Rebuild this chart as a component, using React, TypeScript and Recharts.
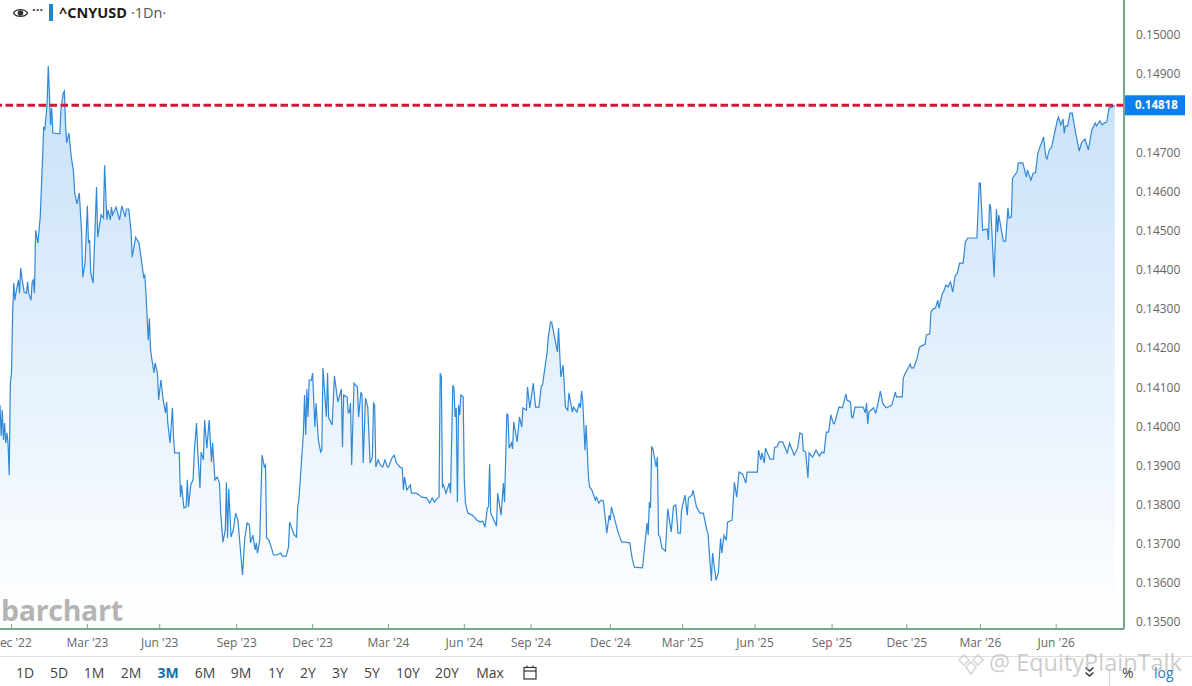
import { Area, AreaChart, ReferenceLine, XAxis, YAxis } from 'recharts';

// session number counted from the left edge of the chart
const sessions = [
  0,1,2,3,4,5,6,7,8,9,10,11,12,13,14,16,
  17,18,19,21,23,24,25,27,28,29,30,31,33,35,37,38,
  39,41,42,43,44,45,46,52,53,55,56,57,58,60,62,64,
  65,67,69,71,72,74,76,77,78,79,81,84,85,88,90,91,
  93,94,96,97,98,101,104,106,109,110,112,113,114,115,118,121,
  123,125,126,127,129,130,131,132,134,135,137,138,140,142,144,145,
  146,148,150,151,152,156,157,158,160,162,163,164,166,168,169,171,
  172,174,175,177,178,180,182,184,185,187,189,191,192,194,196,197,
  198,199,201,203,205,207,209,211,213,215,217,218,220,222,223,224,
  225,226,228,230,231,232,234,236,238,241,244,246,249,251,252,256,
  258,259,260,262,264,265,266,267,268,269,271,272,274,275,277,279,
  280,281,284,285,286,289,291,294,297,298,299,302,303,304,305,306,
  308,311,312,314,315,316,318,320,322,324,325,326,327,329,331,333,
  335,337,338,341,343,345,348,350,351,352,354,357,358,362,365,367,
  371,374,376,378,380,382,383,384,385,386,388,391,392,394,395,396,
  397,398,399,400,401,403,404,405,407,411,415,418,420,422,424,425,
  426,427,429,432,433,436,438,439,441,442,443,445,446,447,450,452,
  454,455,458,459,461,464,466,469,471,472,476,477,479,480,483,485,
  486,488,490,492,494,495,498,499,502,504,505,506,507,509,510,512,
  513,515,518,519,521,523,525,528,530,531,532,535,538,541,544,548,
  550,552,559,560,563,564,565,566,567,568,571,572,573,574,576,579,
  581,584,586,588,590,592,593,596,598,599,602,603,606,609,612,615,
  616,619,620,623,625,627,628,630,632,633,637,639,641,643,646,649,
  650,659,660,662,663,665,666,670,673,674,676,678,681,685,687,691,
  694,696,698,699,701,703,704,707,710,713,715,717,719,721,723,725,
  726,730,733,736,737,740,741,742,744,751,753,754,755,756,760,762,
  764,766,768,771,773,776,779,780,785,786,787,792,793,795,798,800,
  805,806,809,810,812,814,816,817,820,821,823,825,827,829,831,833,
  835,838,840,842,850,852,853,855,859,860,861,862,865,867,868,869,
  873,875,877,878,880,881,885,886,890,893,894,897,899,901,903,908,
  910,911,913,915,920,921,923,925,926,927,929,931,933,935,939,941,
  944,947,950,953,954,957,959,961,963,965,968,970,
];

// closes in units of 0.00001 USD
const closes = [
  14052,13973,14039,13963,14006,13955,13981,13955,13873,14108,14134,14287,14364,14320,14341,14372,
  14338,14402,14379,14341,14338,14367,14338,14320,14367,14372,14338,14499,14466,14533,14678,14763,
  14755,14824,14918,14849,14768,14811,14747,14745,14806,14849,14854,14773,14722,14747,14686,14648,
  14594,14566,14594,14492,14379,14415,14561,14466,14474,14389,14364,14609,14481,14538,14530,14665,
  14525,14550,14525,14558,14538,14558,14525,14561,14533,14553,14553,14525,14499,14430,14481,14466,
  14423,14379,14384,14338,14218,14274,14193,14172,14134,14160,14134,14065,14116,14065,14032,14060,
  14006,13955,14045,13971,13930,13930,13817,13848,13789,13792,13861,13792,13848,13861,13930,14006,
  13937,13840,13932,13912,14014,13942,14014,13907,13955,13861,13868,13853,13776,13702,13733,13855,
  13712,13838,13715,13733,13776,13758,13689,13618,13712,13751,13746,13700,13720,13682,13700,13674,
  13689,13707,13924,13894,13899,13712,13707,13689,13669,13669,13674,13666,13666,13689,13753,13720,
  13715,13792,13809,13894,13981,14078,13976,14093,14022,14116,14116,14134,13996,14057,13963,13932,
  13937,14147,14022,14134,14019,14001,14126,14060,14093,13945,14078,14073,14032,14034,14057,13899,
  14108,14098,14022,14085,14078,13904,14070,14047,13904,13919,14057,14052,13894,13912,13899,13894,
  13912,13894,13894,13917,13924,13904,13894,13891,13835,13868,13835,13848,13827,13827,13822,13817,
  13815,13802,13815,13804,13812,13817,14134,14124,13843,13848,13827,13853,13827,14103,14096,14022,
  14045,13804,14052,14027,14078,14073,13861,13802,13776,13771,13758,13753,13756,13740,13789,13792,
  13901,13776,13763,13743,13827,13771,13853,13804,14029,14027,13942,13955,13940,14009,13958,14022,
  13996,14045,14039,14098,14045,14108,14047,14047,14101,14103,14185,14223,14264,14264,14218,14188,
  14249,14124,14154,14047,14039,14083,14034,14047,14034,14057,14045,14088,14065,13937,14001,13868,
  13843,13835,13809,13817,13802,13809,13807,13725,13771,13758,13792,13758,13725,13702,13702,13700,
  13661,13638,13636,13664,13751,13720,13804,13789,13945,13942,13894,13919,13720,13717,13687,13679,
  13787,13728,13794,13797,13725,13725,13784,13822,13771,13815,13822,13835,13792,13776,13776,13733,
  13725,13603,13674,13605,13623,13712,13674,13720,13707,13753,13758,13855,13817,13881,13876,13853,
  13881,13881,13937,13912,13930,13904,13942,13914,13914,13945,13945,13958,13958,13930,13955,13924,
  13942,13981,13978,13935,13932,13866,13930,13919,13937,13922,13932,13930,13983,13983,14027,14006,
  14004,14047,14045,14080,14065,14060,14022,14019,14047,14047,14032,14057,14004,14034,14045,14032,
  14057,14088,14057,14045,14047,14052,14085,14073,14073,14121,14129,14157,14147,14147,14172,14200,
  14208,14231,14234,14290,14298,14300,14320,14300,14338,14341,14359,14354,14367,14341,14382,14389,
  14415,14415,14469,14479,14479,14619,14619,14499,14502,14474,14566,14558,14379,14553,14494,14538,
  14471,14471,14556,14530,14533,14632,14648,14671,14671,14635,14653,14627,14645,14645,14696,14737,
  14686,14681,14704,14711,14780,14788,14768,14783,14747,14765,14765,14798,14798,14763,14701,14722,
  14732,14704,14755,14773,14765,14778,14768,14773,14775,14811,14814,14818,
];

const monthTicks = [10, 76, 139, 206, 272, 338, 404, 462, 531, 594, 657, 724, 789, 853, 919];
const monthLabels = [
  "Dec '22", "Mar '23", "Jun '23", "Sep '23", "Dec '23", "Mar '24", "Jun '24", "Sep '24",
  "Dec '24", "Mar '25", "Jun '25", "Sep '25", "Dec '25", "Mar '26", "Jun '26",
];
const priceTicks = [
  0.135, 0.136, 0.137, 0.138, 0.139, 0.14, 0.141, 0.142, 0.143, 0.144, 0.145, 0.146, 0.147, 0.149, 0.15,
];
const lastPrice = 0.14818;
const periods = ['1D', '5D', '1M', '2M', '3M', '6M', '9M', '1Y', '2Y', '3Y', '5Y', '10Y', '20Y', 'Max'];
const periodCenters = [25, 59, 94, 131, 168, 205, 241, 276, 308, 340, 372, 408, 447, 490];

const data = sessions.map((session, i) => ({ session, close: closes[i] / 100000 }));

const FONT = '"Open Sans", sans-serif';
const AXIS_GREEN = '#72a98a';

function MonthTick({ x, y, payload }: any) {
  const label = monthLabels[monthTicks.indexOf(payload.value)];
  return (
    <g>
      <line x1={x} x2={x} y1={y - 5} y2={y} stroke={AXIS_GREEN} />
      <text x={x} y={y + 18} textAnchor="middle" fontSize={12} fontFamily={FONT} fill="#666">
        {label}
      </text>
    </g>
  );
}

function PriceFlag({ viewBox }: any) {
  const y = viewBox.y;
  return (
    <g>
      <rect x={1124} y={y - 10} width={61} height={20} fill="#0c7fee" />
      <text x={1135} y={y + 4} fontSize={11.5} fontWeight={700} fontFamily={FONT} fill="#fff">
        {lastPrice.toFixed(5)}
      </text>
    </g>
  );
}

function Abs({ left, top, style, children }: any) {
  return <div style={{ position: 'absolute', left, top, fontFamily: FONT, whiteSpace: 'nowrap', ...style }}>{children}</div>;
}

export default function App() {
  return (
    <div style={{ position: 'absolute', left: 0, top: 0, width: 1192, height: 686, overflow: 'hidden', background: '#fff' }}>
      <AreaChart width={1192} height={686} data={data} margin={{ top: 0, right: 0, bottom: 0, left: 0 }}>
        <defs>
          <linearGradient id="cnyFill" x1="0" y1="0" x2="0" y2="1">
            <stop offset="0%" stopColor="#c6e0f9" />
            <stop offset="100%" stopColor="#ffffff" />
          </linearGradient>
        </defs>
        <XAxis
          dataKey="session"
          type="number"
          domain={[0, 978]}
          ticks={monthTicks}
          interval={0}
          height={57}
          tick={<MonthTick />}
          tickLine={false}
          tickSize={0}
          tickMargin={0}
          axisLine={{ stroke: AXIS_GREEN, strokeWidth: 2 }}
        />
        <YAxis
          orientation="right"
          width={68}
          domain={[0.1348, 0.15087]}
          allowDataOverflow
          ticks={priceTicks}
          interval={0}
          tickFormatter={(v: number) => v.toFixed(5)}
          tick={{ fill: '#666', fontSize: 12, fontFamily: FONT, textAnchor: 'start', dy: 1 }}
          tickLine={false}
          tickSize={0}
          tickMargin={12}
          axisLine={{ stroke: AXIS_GREEN, strokeWidth: 2 }}
        />
        <Area
          type="linear"
          dataKey="close"
          stroke="#3388d6"
          strokeWidth={1.2}
          fill="url(#cnyFill)"
          fillOpacity={1}
          dot={false}
          activeDot={false}
          isAnimationActive={false}
        />
        <ReferenceLine
          y={lastPrice}
          stroke="#cc1a3a"
          strokeWidth={3}
          strokeDasharray="7.5 3.5"
          label={<PriceFlag />}
        />
      </AreaChart>

      {/* header */}
      <svg style={{ position: 'absolute', left: 13, top: 7 }} width={15} height={12} viewBox="0 0 15 12">
        <path d="M0.5 6 C3 1.5 12 1.5 14.5 6 C12 10.5 3 10.5 0.5 6 Z" fill="none" stroke="#333" strokeWidth={1.3} />
        <circle cx={7.5} cy={6} r={2.8} fill="#333" />
      </svg>
      <Abs left={32} top={2} style={{ fontSize: 13, fontWeight: 700, color: '#444', lineHeight: '14px' }}>···</Abs>
      <div style={{ position: 'absolute', left: 49, top: 4, width: 4, height: 17, background: '#1f85cc' }} />
      <Abs left={59} top={3} style={{ fontSize: 14.5, fontWeight: 700, color: '#1c1c1c', lineHeight: '19px' }}>^CNYUSD</Abs>
      <Abs left={131} top={3} style={{ fontSize: 14.5, color: '#555', lineHeight: '19px' }}>·1Dn·</Abs>

      {/* logo */}
      <Abs left={1} top={590} style={{ fontSize: 28.5, fontWeight: 700, color: '#b4b4b4', lineHeight: '40px', letterSpacing: -0.3 }}>barchart</Abs>

      {/* footer */}
      <div style={{ position: 'absolute', left: 0, top: 656, width: 1192, height: 1, background: '#dfdfdf' }} />
      {periods.map((p, i) => (
        <Abs
          key={p}
          left={periodCenters[i] - 30}
          top={663}
          style={{
            width: 60,
            textAlign: 'center',
            fontSize: 14,
            lineHeight: '20px',
            fontWeight: p === '3M' ? 700 : 400,
            color: p === '3M' ? '#1a6ca3' : '#444',
          }}
        >
          {p}
        </Abs>
      ))}
      <svg style={{ position: 'absolute', left: 523, top: 665 }} width={14} height={15} viewBox="0 0 14 15">
        <rect x={1} y={2.5} width={12} height={11.5} fill="none" stroke="#333" strokeWidth={1.2} />
        <line x1={1} x2={13} y1={6} y2={6} stroke="#333" strokeWidth={1.2} />
        <line x1={4} x2={4} y1={0.5} y2={3} stroke="#333" strokeWidth={1.2} />
        <line x1={10} x2={10} y1={0.5} y2={3} stroke="#333" strokeWidth={1.2} />
      </svg>
      <svg style={{ position: 'absolute', left: 1084, top: 666 }} width={11} height={12} viewBox="0 0 11 12">
        <path d="M1.5 1.5 L5.5 5 L9.5 1.5 M1.5 6.5 L5.5 10 L9.5 6.5" fill="none" stroke="#333" strokeWidth={1.5} />
      </svg>
      <div style={{ position: 'absolute', left: 1109, top: 668, width: 1, height: 18, background: '#d8d8d8' }} />
      <Abs left={1122} top={663} style={{ fontSize: 14, lineHeight: '20px', color: '#444' }}>%</Abs>
      <Abs left={1154} top={663} style={{ fontSize: 14, lineHeight: '20px', color: '#1f7ab8' }}>log</Abs>

      {/* watermark */}
      <svg style={{ position: 'absolute', left: 956, top: 652 }} width={30} height={24} viewBox="0 0 30 24" opacity={0.55}>
        <g fill="none" stroke="#b9b9b9" strokeWidth={1.6}>
          <path d="M8 3 L13 8 L8 13 L3 8 Z" />
          <path d="M22 3 L27 8 L22 13 L17 8 Z" />
          <path d="M15 10 L20 15 L15 22 L10 15 Z" />
        </g>
      </svg>
      <Abs left={989} top={647} style={{ fontSize: 23.5, lineHeight: '30px', color: 'rgba(170,170,170,0.6)' }}>@ EquityPlainTalk</Abs>
    </div>
  );
}
